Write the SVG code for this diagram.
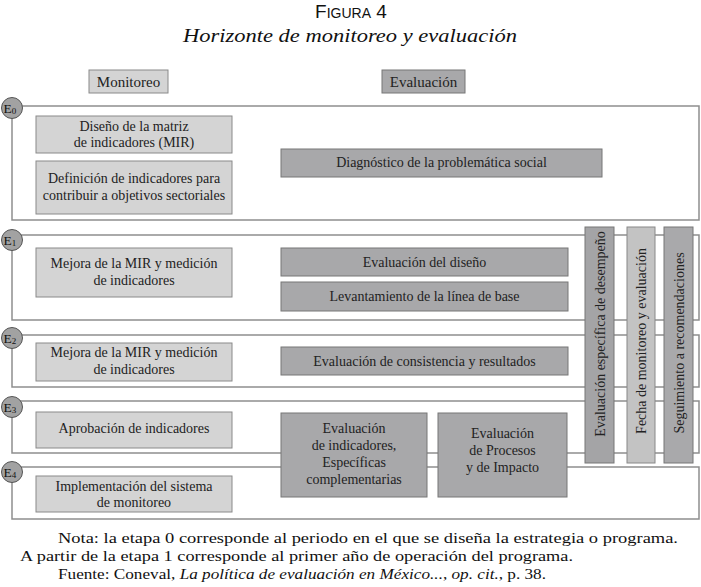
<svg xmlns="http://www.w3.org/2000/svg" width="701" height="587" viewBox="0 0 701 587">
<style>
.bg{fill:#ffffff}
.frame{fill:none;stroke:#8e8e8e;stroke-width:1.5}
.mon{fill:#d4d4d4;stroke:#8a8a8a;stroke-width:1}
.ev{fill:#a8a8aa;stroke:#777;stroke-width:1}
.bar1{fill:#a4a4a6;stroke:#777;stroke-width:1}
.bar2{fill:#c3c3c3;stroke:#888;stroke-width:1}
.bar3{fill:#a9a9ab;stroke:#777;stroke-width:1}
.t{font-size:14px;fill:#222;text-anchor:middle}
.vt{font-size:14px;fill:#222;text-anchor:middle}
.h{font-size:15px;fill:#222;text-anchor:middle}
.circ{fill:#a2a2a2;stroke:#555;stroke-width:1}
.el{font-size:13.5px;fill:#111}
.note{font-size:15px;fill:#111}
</style>
<rect class="bg" x="0" y="0" width="701" height="587"/>

<g id="title">
<text x="351" y="18" text-anchor="middle" font-family="Liberation Sans, sans-serif" fill="#111"><tspan font-size="19">F</tspan><tspan font-size="14">IGURA</tspan><tspan font-size="19"> 4</tspan></text>
<text x="350" y="42" text-anchor="middle" font-family="Liberation Serif, serif" font-style="italic" font-size="19.5" fill="#111" textLength="334" lengthAdjust="spacingAndGlyphs">Horizonte de monitoreo y evaluación</text>
</g>

<g font-family="'Liberation Serif', 'Times New Roman', serif">
<g id="header-monitoreo"><rect class="mon" x="89" y="70" width="79" height="23"/><text class="h" x="128.5" y="87">Monitoreo</text></g>
<g id="header-evaluacion"><rect class="ev" x="382" y="70" width="83" height="23"/><text class="h" x="423.5" y="87">Evaluación</text></g>

<g id="connectors">
<path class="frame" d="M12 106 H699 V220 H12 Z"/>
<path class="frame" d="M12 235 H699 V320 H12 Z"/>
<path class="frame" d="M12 335 H699 V387 H12 Z"/>
<path class="frame" d="M12 401 H699 V453 H12 Z"/>
<path class="frame" d="M12 467 H699 V519 H12 Z"/>
</g>

<g id="E0"><circle class="circ" cx="12" cy="108" r="10.5"/><text class="el" x="3.5" y="113">E<tspan font-size="9" dy="1">0</tspan></text></g>
<g id="E1"><circle class="circ" cx="12" cy="240" r="10.5"/><text class="el" x="3.5" y="245">E<tspan font-size="9" dy="1">1</tspan></text></g>
<g id="E2"><circle class="circ" cx="12" cy="338" r="10.5"/><text class="el" x="3.5" y="343">E<tspan font-size="9" dy="1">2</tspan></text></g>
<g id="E3"><circle class="circ" cx="12" cy="407" r="10.5"/><text class="el" x="3.5" y="412">E<tspan font-size="9" dy="1">3</tspan></text></g>
<g id="E4"><circle class="circ" cx="12" cy="472" r="10.5"/><text class="el" x="3.5" y="477">E<tspan font-size="9" dy="1">4</tspan></text></g>

<g id="m-diseno"><rect class="mon" x="36" y="116" width="196" height="37"/><text class="t" x="134" y="131">Diseño de la matriz</text><text class="t" x="134" y="147">de indicadores (MIR)</text></g>
<g id="m-definicion"><rect class="mon" x="36" y="161" width="196" height="53"/><text class="t" x="134" y="183">Definición de indicadores para</text><text class="t" x="134" y="200">contribuir a objetivos sectoriales</text></g>
<g id="e-diagnostico"><rect class="ev" x="281" y="149" width="321" height="28"/><text class="t" x="441.5" y="167">Diagnóstico de la problemática social</text></g>

<g id="m-mejora1"><rect class="mon" x="36" y="248" width="196" height="49"/><text class="t" x="134" y="268">Mejora de la MIR y medición</text><text class="t" x="134" y="285">de indicadores</text></g>
<g id="e-diseno"><rect class="ev" x="281" y="248" width="287" height="28"/><text class="t" x="424.5" y="267">Evaluación del diseño</text></g>
<g id="e-levantamiento"><rect class="ev" x="281" y="282" width="287" height="29"/><text class="t" x="424.5" y="301">Levantamiento de la línea de base</text></g>

<g id="m-mejora2"><rect class="mon" x="36" y="343" width="196" height="38"/><text class="t" x="134" y="357">Mejora de la MIR y medición</text><text class="t" x="134" y="374">de indicadores</text></g>
<g id="e-consistencia"><rect class="ev" x="281" y="347" width="287" height="28"/><text class="t" x="424.5" y="365.5">Evaluación de consistencia y resultados</text></g>

<g id="m-aprobacion"><rect class="mon" x="36" y="412" width="196" height="36"/><text class="t" x="134" y="433">Aprobación de indicadores</text></g>
<g id="e-indicadores"><rect class="ev" x="281" y="413" width="146" height="84"/><text class="t" x="354" y="433">Evaluación</text><text class="t" x="354" y="450">de indicadores,</text><text class="t" x="354" y="467">Específicas</text><text class="t" x="354" y="484">complementarias</text></g>
<g id="e-procesos"><rect class="ev" x="438" y="413" width="129" height="84"/><text class="t" x="502.5" y="438">Evaluación</text><text class="t" x="502.5" y="455">de Procesos</text><text class="t" x="502.5" y="472">y de Impacto</text></g>

<g id="m-implementacion"><rect class="mon" x="36" y="476" width="196" height="36"/><text class="t" x="134" y="491">Implementación del sistema</text><text class="t" x="134" y="507">de monitoreo</text></g>

<g id="bar-desempeno"><rect class="bar1" x="585" y="227" width="29" height="236"/><text class="vt" transform="translate(604.5,334) rotate(-90)">Evaluación específica de desempeño</text></g>
<g id="bar-fecha"><rect class="bar2" x="627" y="227" width="28" height="236"/><text class="vt" transform="translate(646,341) rotate(-90)">Fecha de monitoreo y evaluación</text></g>
<g id="bar-seguimiento"><rect class="bar3" x="664" y="227" width="29" height="236"/><text class="vt" transform="translate(683.5,343) rotate(-90)">Seguimiento a recomendaciones</text></g>

<g id="notes">
<text class="note" x="58" y="543" textLength="620" lengthAdjust="spacingAndGlyphs">Nota: la etapa 0 corresponde al periodo en el que se diseña la estrategia o programa.</text>
<text class="note" x="20" y="561" textLength="553" lengthAdjust="spacingAndGlyphs">A partir de la etapa 1 corresponde al primer año de operación del programa.</text>
<text class="note" x="58" y="579" textLength="488" lengthAdjust="spacingAndGlyphs">Fuente: Coneval, <tspan font-style="italic">La política de evaluación en México...</tspan>, <tspan font-style="italic">op. cit.</tspan>, p. 38.</text>
</g>
</g>
</svg>
